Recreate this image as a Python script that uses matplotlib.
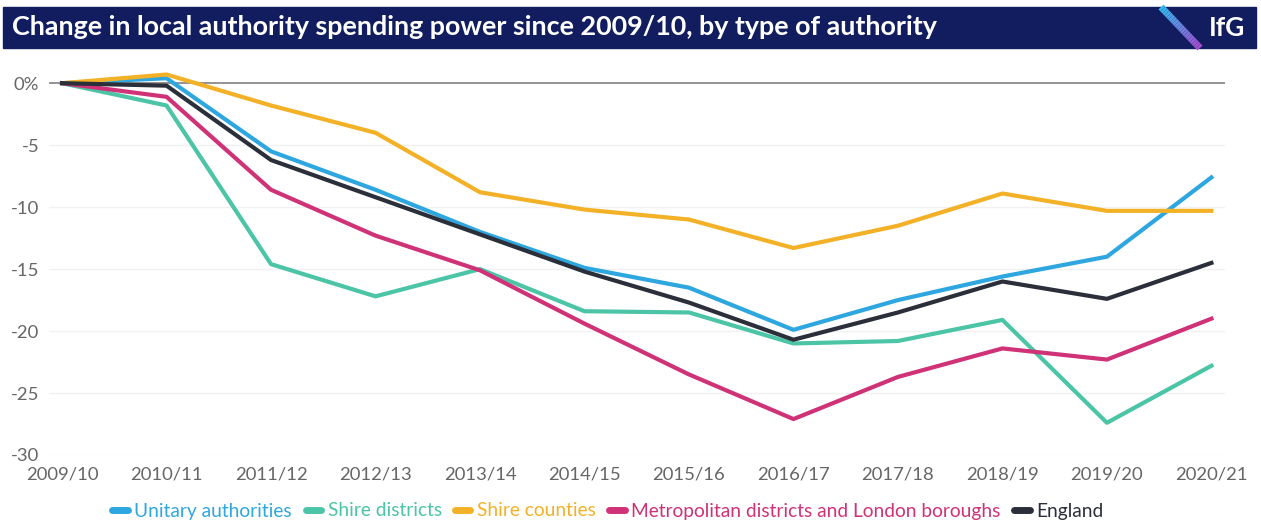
import numpy as np
import matplotlib
matplotlib.use('Agg')
import matplotlib.pyplot as plt
from matplotlib.patches import Rectangle

plt.rcParams['font.family'] = ['Lato', 'DejaVu Sans']

# Data (% change in spending power since 2009/10)
years = ['2009/10', '2010/11', '2011/12', '2012/13', '2013/14', '2014/15',
         '2015/16', '2016/17', '2017/18', '2018/19', '2019/20', '2020/21']
unitary = [0, 0.4, -5.5, -8.6, -12.0, -14.9, -16.5, -19.9, -17.5, -15.6, -14.0, -7.6]
shire_districts = [0, -1.8, -14.6, -17.2, -15.0, -18.4, -18.5, -21.0, -20.8, -19.1, -27.4, -22.8]
shire_counties = [0, 0.7, -1.8, -4.0, -8.8, -10.2, -11.0, -13.3, -11.5, -8.9, -10.3, -10.3]
metropolitan = [0, -1.1, -8.6, -12.3, -15.1, -19.4, -23.5, -27.1, -23.7, -21.4, -22.3, -19.0]
england = [0, -0.2, -6.2, -9.2, -12.2, -15.2, -17.7, -20.7, -18.5, -16.0, -17.4, -14.5]

series_names = ['Unitary authorities', 'Shire districts', 'Shire counties',
                'Metropolitan districts and London boroughs', 'England']
series_values = [unitary, shire_districts, shire_counties, metropolitan, england]
colours = ['#2ea6df', '#4cc4a6', '#f3b127', '#cf3277', '#2b2f3a']

yticks = [0, -5, -10, -15, -20, -25, -30]
ytick_labels = ['0%', '-5', '-10', '-15', '-20', '-25', '-30']

W, H = 1261, 521
fig = plt.figure(figsize=(W / 100, H / 100), dpi=100)

# title bar
fig.patches.append(Rectangle((3 / W, 1 - 48 / H), 1253 / W, 41 / H,
                             transform=fig.transFigure, color='#111d5e', zorder=0))
fig.text(12 / W, 1 - 27 / H, 'Change in local authority spending power since 2009/10, by type of authority',
         color='white', fontsize=19.4, fontweight='bold', va='center', ha='left')
fig.text(1245 / W, 1 - 28 / H, 'IfG', color='white', fontsize=19, fontweight='bold',
         va='center', ha='right')
# logo stripe, blue to purple
n = 20
for i in range(n):
    t0, t1 = i / n, (i + 1) / n
    c = np.array([0.2, 0.72, 0.93]) * (1 - t0) + np.array([0.66, 0.28, 0.8]) * t0
    fig.add_artist(plt.Line2D([(1161 + 39 * t0) / W, (1161 + 39 * t1) / W],
                              [1 - (7 + 41 * t0) / H, 1 - (7 + 41 * t1) / H],
                              transform=fig.transFigure, color=c, lw=5,
                              solid_capstyle='butt'))

ax = fig.add_axes([49 / W, 1 - 455 / H, (1225 - 49) / W, (455 - 70.8) / H])
x = np.arange(len(years))
for name, vals, col in zip(series_names, series_values, colours):
    ax.plot(x, vals, color=col, lw=3, label=name, solid_joinstyle='round')

ax.set_xlim(-0.125, len(years) - 1 + 0.13)
ax.set_ylim(-30, 1)
ax.set_yticks(yticks)
ax.set_yticklabels(ytick_labels)
ax.set_xticks(x)
ax.set_xticklabels(years)
for s in ax.spines.values():
    s.set_visible(False)
ax.tick_params(length=0, colors='#666666', labelsize=13.3)
ax.tick_params(axis='x', pad=8)
ax.tick_params(axis='y', pad=7)
for yv in yticks[1:]:
    ax.axhline(yv, color='#f1f1f1', lw=1, zorder=0)
ax.axhline(0, color='#8a8a8a', lw=1.3, zorder=1)

leg = fig.legend(loc='center', bbox_to_anchor=(608 / W, 1 - 511 / H), ncol=5, frameon=False,
                 handlelength=0.8, handletextpad=0.35, columnspacing=0.7, fontsize=13.8)
for txt, col in zip(leg.get_texts(), colours):
    txt.set_color(col)
for line in leg.get_lines():
    line.set_linewidth(5)
    line.set_solid_capstyle('round')

fig.savefig('out.png', dpi=100, facecolor='white')
